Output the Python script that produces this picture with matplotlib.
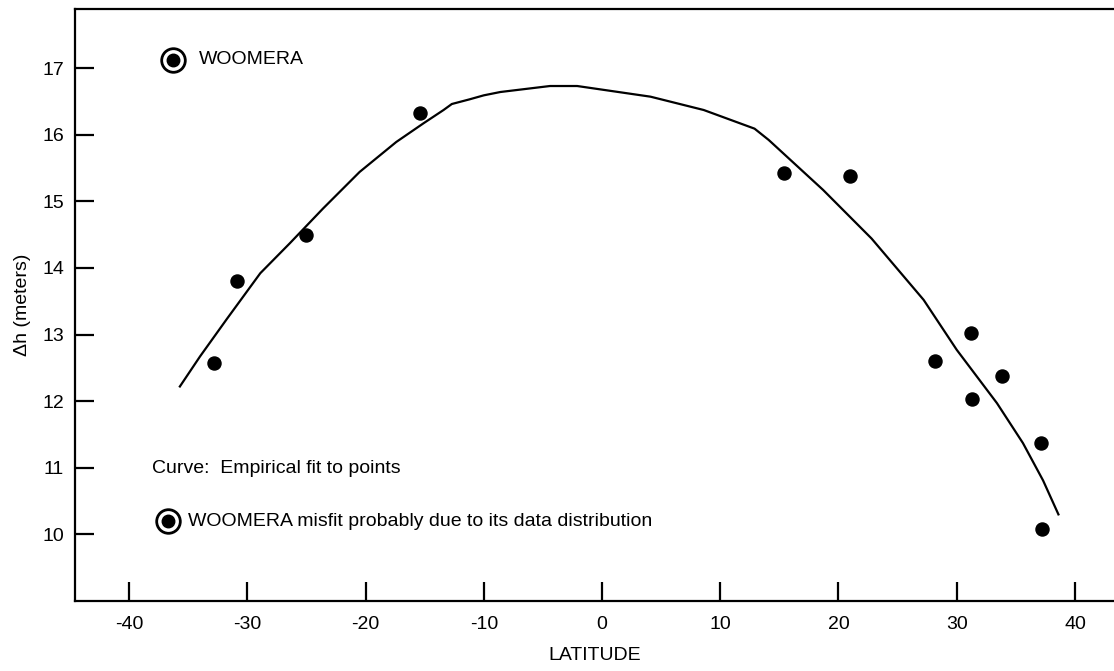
import matplotlib
matplotlib.use("Agg")
import matplotlib.pyplot as plt

plt.rcParams['font.family'] = ['Liberation Sans', 'DejaVu Sans']
plt.rcParams['axes.unicode_minus'] = False

# station points (latitude, delta h in meters)
lat = [-32.8, -30.9, -25.0, -15.4, 15.4, 21.0, 28.2, 31.2, 31.3, 33.8, 37.1, 37.2]
dh = [12.57, 13.80, 14.49, 16.33, 15.43, 15.38, 12.60, 13.03, 12.03, 12.38, 11.37, 10.08]

# WOOMERA (misfit) point
woomera_lat = [-36.3]
woomera_dh = [17.12]

# empirical fit curve
curve_lat = [-35.7, -34.0, -31.7, -28.9, -26.4, -23.6, -20.5, -17.4, -15.1, -13.4,
             -12.7, -11.2, -10.0, -8.6, -4.4, -2.1, 4.1, 8.6, 12.9, 14.1, 18.7,
             22.8, 27.2, 30.0, 33.4, 35.6, 37.3, 38.6]
curve_dh = [12.22, 12.67, 13.24, 13.92, 14.37, 14.89, 15.44, 15.89, 16.17, 16.37,
            16.46, 16.53, 16.59, 16.64, 16.73, 16.73, 16.57, 16.37, 16.09, 15.92,
            15.17, 14.44, 13.52, 12.77, 11.97, 11.37, 10.81, 10.30]

x_ticks = [-40, -30, -20, -10, 0, 10, 20, 30, 40]
y_ticks = [10, 11, 12, 13, 14, 15, 16, 17]

fig = plt.figure(figsize=(11.14, 6.71), dpi=100)
ax = fig.add_axes([75 / 1114, 70 / 671, 1 - 75 / 1114, 592 / 671])

ax.plot(curve_lat, curve_dh, color='black', lw=1.6)
ax.plot(lat, dh, 'o', color='black', markersize=9.4, linestyle='none')

# woomera: ring with dot
ax.plot(woomera_lat, woomera_dh, 'o', mfc='white', mec='black', mew=2,
        markersize=17, linestyle='none')
ax.plot(woomera_lat, woomera_dh, 'o', color='black', markersize=9, linestyle='none')
ax.text(0.119, 0.914, 'WOOMERA', transform=ax.transAxes, fontsize=14, va='center')

ax.text(0.0741, 0.223, 'Curve:  Empirical fit to points', transform=ax.transAxes,
        fontsize=14, va='center')
ax.plot([0.0895], [0.135], 'o', mfc='white', mec='black', mew=2, markersize=17,
        transform=ax.transAxes, clip_on=False)
ax.plot([0.0895], [0.135], 'o', color='black', markersize=9,
        transform=ax.transAxes, clip_on=False)
ax.text(0.1088, 0.135, 'WOOMERA misfit probably due to its data distribution',
        transform=ax.transAxes, fontsize=14, va='center')

ax.set_xlim(-44.57, 43.3)
ax.set_ylim(9.0, 17.886)
ax.set_xticks(x_ticks)
ax.set_yticks(y_ticks)
ax.tick_params(direction='in', length=13.5, width=1.6, labelsize=14)
ax.tick_params(axis='x', pad=11)
ax.tick_params(axis='y', pad=8)

for side in ['left', 'bottom', 'top']:
    ax.spines[side].set_linewidth(1.6)
ax.spines['right'].set_visible(False)

ax.set_xlabel('LATITUDE', fontsize=14, labelpad=10)
ax.set_ylabel('Δh (meters)', fontsize=14, labelpad=8)

fig.savefig('out.png', dpi=100)
